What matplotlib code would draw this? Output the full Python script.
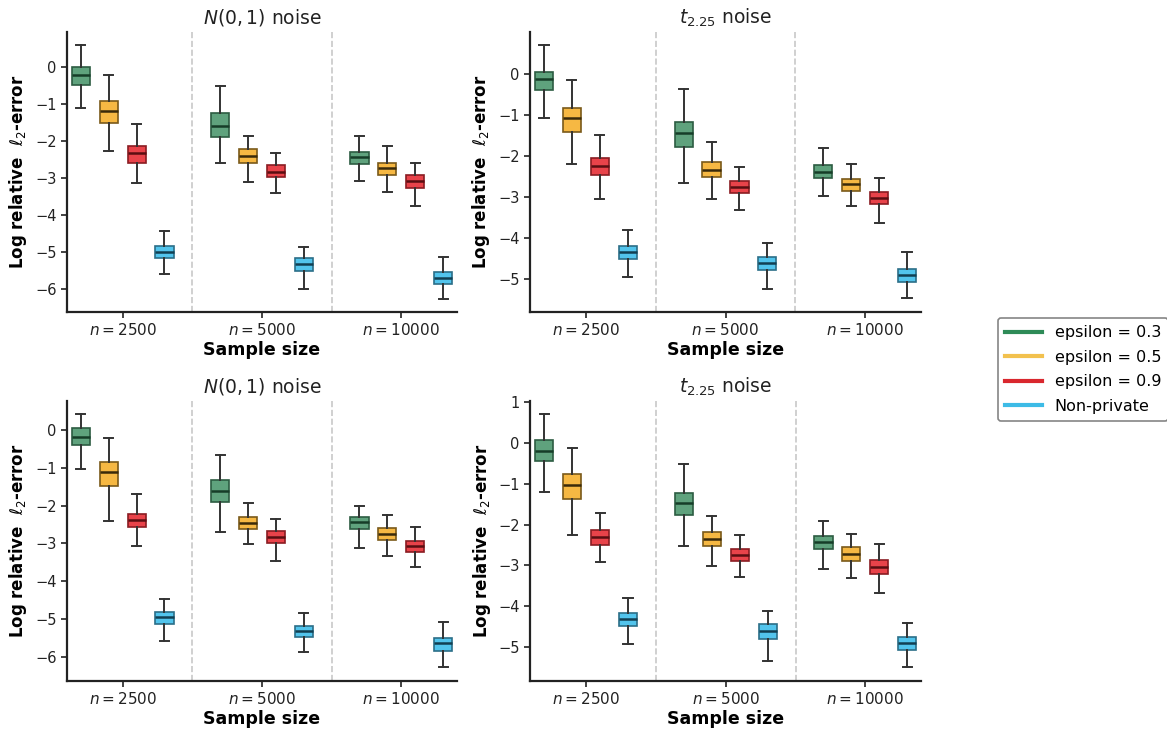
import matplotlib
matplotlib.use('Agg')
import matplotlib.pyplot as plt
from matplotlib.lines import Line2D

# ---------------- data ----------------
sample_sizes = ['$n = 2500$', '$n = 5000$', '$n = 10000$']
series_labels = ['epsilon = 0.3', 'epsilon = 0.5', 'epsilon = 0.9', 'Non-private']
panel_titles = ['$N(0, 1)$ noise', '$t_{2.25}$ noise', '$N(0, 1)$ noise', '$t_{2.25}$ noise']

# each row: [whisker low, Q1, median, Q3, whisker high] for n = 2500, 5000, 10000
# top-left: N(0,1) noise
tl_eps03 = [[-1.12, -0.49, -0.22, 0.00, 0.58], [-2.61, -1.90, -1.60, -1.24, -0.51], [-3.08, -2.62, -2.43, -2.29, -1.86]]
tl_eps05 = [[-2.26, -1.51, -1.19, -0.93, -0.22], [-3.12, -2.61, -2.40, -2.21, -1.86], [-3.38, -2.92, -2.74, -2.59, -2.15]]
tl_eps09 = [[-3.15, -2.59, -2.34, -2.14, -1.55], [-3.41, -2.97, -2.83, -2.66, -2.34], [-3.75, -3.26, -3.08, -2.91, -2.60]]
tl_nonpriv = [[-5.59, -5.17, -5.01, -4.85, -4.43], [-6.00, -5.51, -5.32, -5.17, -4.87], [-6.26, -5.86, -5.69, -5.54, -5.13]]

# top-right: t_{2.25} noise
tr_eps03 = [[-1.07, -0.40, -0.14, 0.04, 0.69], [-2.66, -1.78, -1.44, -1.19, -0.38], [-2.99, -2.53, -2.40, -2.23, -1.80]]
tr_eps05 = [[-2.20, -1.42, -1.09, -0.83, -0.15], [-3.05, -2.52, -2.35, -2.16, -1.66], [-3.23, -2.85, -2.69, -2.57, -2.21]]
tr_eps09 = [[-3.05, -2.46, -2.25, -2.06, -1.50], [-3.33, -2.90, -2.75, -2.61, -2.27], [-3.63, -3.18, -3.02, -2.87, -2.54]]
tr_nonpriv = [[-4.96, -4.52, -4.34, -4.19, -3.81], [-5.23, -4.77, -4.60, -4.45, -4.12], [-5.47, -5.08, -4.90, -4.75, -4.33]]

# bottom-left: N(0,1) noise
bl_eps03 = [[-1.03, -0.40, -0.18, 0.06, 0.44], [-2.70, -1.90, -1.60, -1.31, -0.67], [-3.12, -2.63, -2.44, -2.29, -2.00]]
bl_eps05 = [[-2.42, -1.47, -1.10, -0.84, -0.20], [-3.02, -2.61, -2.45, -2.29, -1.92], [-3.33, -2.91, -2.74, -2.59, -2.26]]
bl_eps09 = [[-3.07, -2.58, -2.38, -2.22, -1.70], [-3.46, -3.00, -2.82, -2.67, -2.35], [-3.62, -3.24, -3.07, -2.93, -2.56]]
bl_nonpriv = [[-5.60, -5.14, -4.96, -4.81, -4.47], [-5.88, -5.47, -5.33, -5.18, -4.85], [-6.28, -5.84, -5.65, -5.50, -5.08]]

# bottom-right: t_{2.25} noise
br_eps03 = [[-1.21, -0.44, -0.19, 0.08, 0.71], [-2.53, -1.77, -1.47, -1.22, -0.52], [-3.10, -2.61, -2.43, -2.28, -1.90]]
br_eps05 = [[-2.25, -1.36, -1.04, -0.75, -0.13], [-3.01, -2.52, -2.36, -2.18, -1.78], [-3.32, -2.90, -2.71, -2.56, -2.22]]
br_eps09 = [[-2.92, -2.49, -2.30, -2.14, -1.72], [-3.28, -2.90, -2.74, -2.61, -2.25], [-3.68, -3.22, -3.04, -2.87, -2.48]]
br_nonpriv = [[-4.93, -4.49, -4.32, -4.18, -3.81], [-5.34, -4.81, -4.61, -4.45, -4.13], [-5.50, -5.08, -4.90, -4.75, -4.41]]

# ---------------- style ----------------
legend_colors = ['#2E8B57', '#F2C14E', '#D9272E', '#3DBBE6']
fill_colors = ['#5FA27D', '#F6B843', '#E8434A', '#52C4EC']
edge_colors = ['#2C5C42', '#7A5A1A', '#8A1C22', '#2B6E88']
median_colors = ['#163D28', '#3A2A0A', '#5A0E12', '#123F52']
offsets = [-0.3, -0.1, 0.1, 0.3]

fig = plt.figure(figsize=(11.67, 7.34), dpi=100)
positions = [
    [0.0574, 0.5749, 0.3342, 0.3815],
    [0.4542, 0.5749, 0.3350, 0.3815],
    [0.0574, 0.0726, 0.3342, 0.3815],
    [0.4544, 0.0726, 0.3350, 0.3815],
]
panels = [
    [tl_eps03, tl_eps05, tl_eps09, tl_nonpriv],
    [tr_eps03, tr_eps05, tr_eps09, tr_nonpriv],
    [bl_eps03, bl_eps05, bl_eps09, bl_nonpriv],
    [br_eps03, br_eps05, br_eps09, br_nonpriv],
]
ylims = [(-6.62, 0.94), (-5.80, 1.01), (-6.64, 0.78), (-5.83, 1.04)]
yticks = [range(-6, 1), range(-5, 1), range(-6, 1), range(-5, 2)]

for pos, series, ylim, yt, title in zip(positions, panels, ylims, yticks, panel_titles):
    ax = fig.add_axes(pos)
    for k, data in enumerate(series):
        stats = [dict(whislo=d[0], q1=d[1], med=d[2], q3=d[3], whishi=d[4], fliers=[])
                 for d in data]
        xs = [g + offsets[k] for g in range(len(data))]
        ax.bxp(stats, positions=xs, widths=0.13, patch_artist=True, showfliers=False,
               manage_ticks=False,
               boxprops=dict(facecolor=fill_colors[k], edgecolor=edge_colors[k], linewidth=1.2),
               medianprops=dict(color=median_colors[k], linewidth=1.8),
               whiskerprops=dict(color='#333333', linewidth=1.4),
               capprops=dict(color='#333333', linewidth=1.4))
    for xv in (0.5, 1.5):
        ax.axvline(xv, color='#c8c8c8', linestyle='--', linewidth=1.2, zorder=0)
    ax.set_xlim(-0.4, 2.4)
    ax.set_ylim(*ylim)
    ax.set_yticks(list(yt))
    ax.set_xticks(range(3))
    ax.set_xticklabels(sample_sizes)
    ax.tick_params(labelsize=10.5, width=1.2, length=4, colors='#222222')
    ax.tick_params(axis='x', labelsize=11)
    for s in ('top', 'right'):
        ax.spines[s].set_visible(False)
    for s in ('left', 'bottom'):
        ax.spines[s].set_linewidth(1.6)
        ax.spines[s].set_color('#222222')
    ax.set_title(title, fontsize=13.5, color='#222222')
    ax.set_xlabel('Sample size', fontsize=12.5, fontweight='bold', labelpad=2)
    ax.set_ylabel(r'Log relative  $\ell_2$-error', fontsize=12, fontweight='bold')

handles = [Line2D([0], [0], color=c, lw=3) for c in legend_colors]
leg = fig.legend(handles, series_labels, loc='upper left',
                 bbox_to_anchor=(998 / 1167, 1 - 318 / 734), borderaxespad=0,
                 fontsize=11.5, frameon=True, edgecolor='#666666', fancybox=True,
                 labelspacing=0.6, handlelength=2.3, borderpad=0.45)
leg.get_frame().set_linewidth(1.2)

fig.savefig('out.png', dpi=100)
